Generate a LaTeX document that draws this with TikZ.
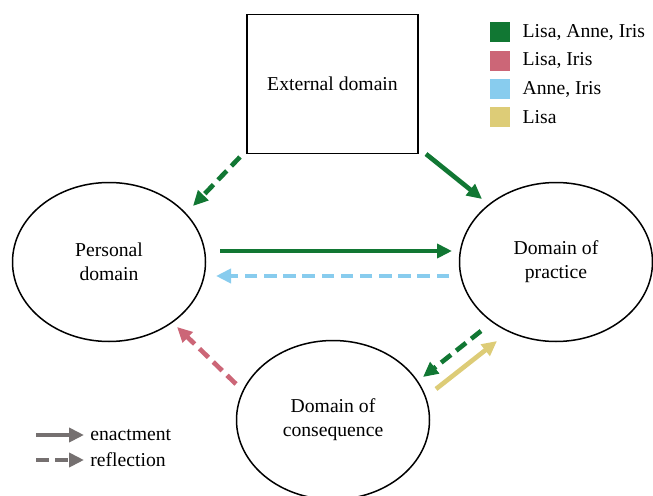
\documentclass[tikz,border=0pt]{standalone}
\usepackage{fontspec}
\setmainfont{Liberation Serif}
\usetikzlibrary{arrows.meta,positioning,shapes.geometric}
\definecolor{tolgreen}{HTML}{117733}
\definecolor{tolrose}{HTML}{CC6677}
\definecolor{tolcyan}{HTML}{88CCEE}
\definecolor{tolsand}{HTML}{DDCC77}
\definecolor{keygray}{HTML}{757070}

\begin{document}
\begin{tikzpicture}[
  x=0.6pt, y=-0.6pt,
  font=\fontsize{11.8}{14.4}\selectfont,
  node distance=4.6pt and 7.2pt,
  dom/.style={draw,ellipse,line width=0.9pt,minimum width=115.8pt,minimum height=95.4pt,align=center},
  extbox/.style={draw,line width=0.9pt,minimum width=102.6pt,minimum height=83.4pt,align=center},
  arr/.style={-{Triangle[length=9pt,width=8.4pt]},line width=2.8pt},
  refl/.style={arr,dash pattern=on 7.5pt off 4pt},
  key/.style={minimum size=12pt,inner sep=0pt},
  keytext/.style={inner sep=0pt,anchor=west}
]
\useasboundingbox (0,0) rectangle (653,496);

% domains
\node[extbox] (external) at (332.5,84) {External domain};
\node[dom] (personal) at (109,262) {Personal\\domain};
\node[dom] (practice) at (556,262) {Domain of\\practice};
\node[dom] (consequence) at (333,420) {Domain of\\consequence};

% arrow ends
\coordinate (ext-p1) at (240,157);
\coordinate (pers-e) at (193,206);
\coordinate (ext-p2) at (426,154);
\coordinate (prac-e) at (482,199);
\coordinate (pers-a) at (220,251);
\coordinate (prac-a) at (452,251);
\coordinate (prac-b) at (449,276);
\coordinate (pers-b) at (216,276);
\coordinate (cons-p) at (236,384);
\coordinate (pers-c) at (177,327);
\coordinate (prac-c) at (481,331);
\coordinate (cons-a) at (423,377);
\coordinate (cons-b) at (436,389);
\coordinate (prac-d) at (497,341);

\draw[refl,tolgreen] (ext-p1) -- (pers-e);
\draw[arr,tolgreen] (ext-p2) -- (prac-e);
\draw[arr,tolgreen] (pers-a) -- (prac-a);
\draw[refl,tolcyan] (prac-b) -- (pers-b);
\draw[refl,tolrose] (cons-p) -- (pers-c);
\draw[refl,tolgreen] (prac-c) -- (cons-a);
\draw[arr,tolsand] (cons-b) -- (prac-d);

% participants
\node[key,fill=tolgreen] (k1) at (500,32.5) {};
\node[key,fill=tolrose,below=of k1] (k2) {};
\node[key,fill=tolcyan,below=of k2] (k3) {};
\node[key,fill=tolsand,below=of k3] (k4) {};
\node[keytext,right=of k1] (t1) {Lisa, Anne, Iris};
\node[keytext,right=of k2] (t2) {Lisa, Iris};
\node[keytext,right=of k3] (t3) {Anne, Iris};
\node[keytext,right=of k4] (t4) {Lisa};

% line types
\coordinate (en-a) at (36,435);
\coordinate (en-b) at (84,435);
\coordinate (re-a) at (36,460);
\coordinate (re-b) at (84,460);
\draw[arr,keygray,line width=2.4pt] (en-a) -- (en-b);
\draw[refl,keygray,line width=2.4pt] (re-a) -- (re-b);
\node[keytext,right=3.6pt of en-b] (enact) {enactment};
\node[keytext,right=3.6pt of re-b] (reflect) {reflection};
\end{tikzpicture}
\end{document}
